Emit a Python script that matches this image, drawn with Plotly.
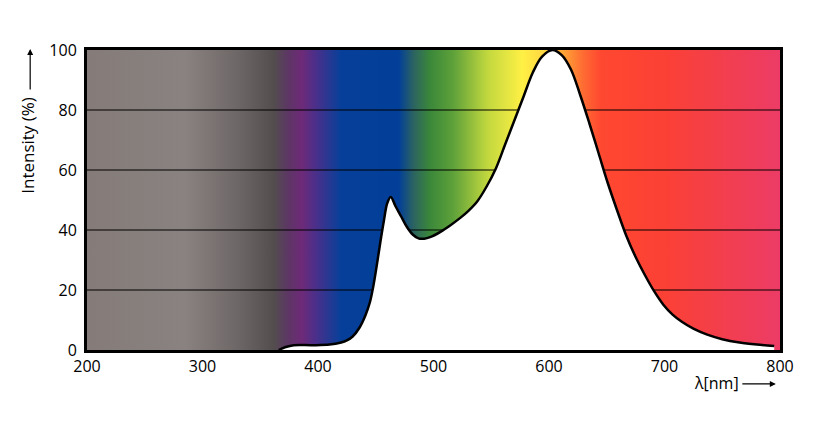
import plotly.graph_objects as go

# emission spectrum
wavelength = [366, 372, 379, 395, 410, 420, 425, 430, 436, 441, 445, 448, 451, 454, 457, 460,
              463, 467, 472, 477, 482, 487, 492, 497, 506, 515, 524, 530, 538, 546, 554,
              562, 570, 578, 586, 594, 603, 611, 619, 627, 635, 643, 651, 659, 667, 675,
              683, 691, 699, 707, 715, 725, 737, 750, 765, 780, 795]
intensity = [0, 1.0, 1.6, 1.6, 1.8, 2.5, 3.2, 4.5, 7.5, 11.5, 16, 21.5, 28.5, 36, 43, 49,
             51, 48, 44.5, 41, 38.5, 37.2, 37.1, 37.6, 39.4, 41.7, 44.3, 46.3, 49.6, 54.5, 60.5,
             68.5, 76.5, 84.5, 92.5, 97.8, 100, 98.3, 93.5, 85, 75.5, 65.5, 55.5, 46.5, 38, 31,
             25, 19.6, 15.1, 11.8, 9.4, 7.1, 5.1, 3.6, 2.5, 1.8, 1.3]

# background spectrum colours (nm -> colour)
band_nm = [200, 285, 330, 362, 375, 386, 398, 412, 420, 470, 483, 497, 517, 547, 577,
           600, 612, 630, 645, 700, 740, 800]
band_colors = ["#857c79", "#898280", "#6e6767", "#534d4e", "#5e3566", "#6e2a78", "#4a2f8a",
               "#1f3a94", "#063f99", "#023f98", "#2c6460", "#3b883a", "#5ea13a", "#c2d83e",
               "#fff045", "#ffd040", "#ffa535", "#ff6a33", "#ff4830", "#fb4035", "#f43f48",
               "#ec3c66"]

grid_levels = [20, 40, 60, 80]
x_ticks = [200, 300, 400, 500, 600, 700, 800]
y_ticks = [0, 20, 40, 60, 80, 100]

x_min, x_max = 200, 800
colorscale = [[(n - x_min) / (x_max - x_min), c] for n, c in zip(band_nm, band_colors)]

fig = go.Figure()

# gradient background
fig.add_trace(go.Scatter(
    x=[x_min, x_max, x_max, x_min, x_min], y=[0, 0, 100, 100, 0],
    mode="lines", line=dict(width=0), fill="toself",
    fillgradient=dict(type="horizontal", colorscale=colorscale, start=x_min, stop=x_max),
    hoverinfo="skip", showlegend=False))

# grid lines on top of the colours
gx, gy = [], []
for g in grid_levels:
    gx += [x_min, x_max, None]
    gy += [g, g, None]
fig.add_trace(go.Scatter(x=gx, y=gy, mode="lines", line=dict(color="black", width=1),
                         hoverinfo="skip", showlegend=False))

# spectrum, white underneath
fig.add_trace(go.Scatter(x=wavelength, y=intensity, mode="lines", fill="tozeroy",
                         fillcolor="white",
                         line=dict(color="black", width=2.5, shape="spline", smoothing=1),
                         showlegend=False))

font = dict(family="Open Sans", size=16, color="black")
fig.update_xaxes(range=[x_min, x_max], tickvals=x_ticks, showgrid=False, zeroline=False,
                 showline=True, linecolor="black", linewidth=3, mirror=True, ticks="",
                 tickfont=font)
fig.update_yaxes(range=[0, 100], tickvals=y_ticks, showgrid=False, zeroline=False,
                 showline=True, linecolor="black", linewidth=3, mirror=True, ticks="",
                 tickfont=font, ticklabelstandoff=4)

fig.add_annotation(xref="paper", yref="paper", x=-0.085, y=0.681, xanchor="center",
                   yanchor="middle", text="Intensity (%)", textangle=-90, showarrow=False,
                   font=dict(family="Open Sans", size=17, color="black"))
fig.add_annotation(xref="paper", yref="paper", x=-0.082, y=1.003, ax=0, ay=42,
                   showarrow=True, arrowhead=2, arrowsize=1, arrowwidth=1.2,
                   arrowcolor="black", text="")
fig.add_annotation(xref="paper", yref="paper", x=0.909, y=-0.11, xanchor="center",
                   yanchor="middle", text="λ[nm]", showarrow=False, font=font)
fig.add_annotation(xref="paper", yref="paper", x=0.994, y=-0.113, ax=-35, ay=0,
                   showarrow=True, arrowhead=2, arrowsize=1, arrowwidth=1.2,
                   arrowcolor="black", text="")

fig.update_layout(width=839, height=433, margin=dict(l=79, r=67, t=42, b=91),
                  plot_bgcolor="white", paper_bgcolor="white")

fig.write_html("out.html")
